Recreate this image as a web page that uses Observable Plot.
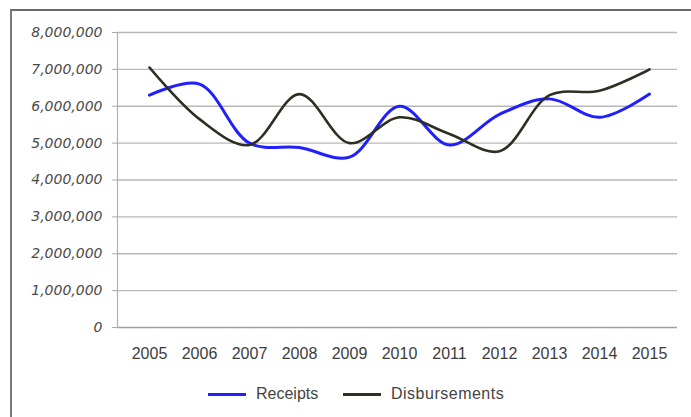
<!DOCTYPE html>
<html>
<head>
<meta charset="utf-8">
<script src="https://cdn.jsdelivr.net/npm/d3@7"></script>
<script src="https://cdn.jsdelivr.net/npm/@observablehq/plot@0.6"></script>
<style>
  body { margin: 0; background: #fff; }
  #wrap { position: relative; width: 691px; height: 417px; overflow: hidden; background: #fff; }
  #frame { position: absolute; left: 10px; top: 9px; width: 720px; height: 430px;
           border-left: 2px solid #7a7a7a; border-top: 2px solid #6a6a6a; box-sizing: border-box; }
  #chart { position: absolute; left: 0; top: 0; }
  #legend { position: absolute; top: 382px; left: 0; width: 691px; height: 24px;
            font-family: "Liberation Sans", sans-serif; font-size: 16px; color: #444; }
  .item { position: absolute; top: 0; display: flex; align-items: center; height: 24px; }
  .swatch { display: inline-block; width: 38px; height: 3px; margin-right: 10px; }
</style>
</head>
<body>
<div id="wrap">
  <div id="frame"></div>
  <div id="chart"></div>
  <div id="legend">
    <div class="item" style="left:208px"><span class="swatch" style="background:#2020ff"></span><span>Receipts</span></div>
    <div class="item" style="left:343px"><span class="swatch" style="background:#2b3020"></span><span style="letter-spacing:0.5px">Disbursements</span></div>
  </div>
</div>
<script>
const years = ["2005","2006","2007","2008","2009","2010","2011","2012","2013","2014","2015"];
const receipts = [6300000, 6600000, 5000000, 4880000, 4620000, 6000000, 4950000, 5780000, 6200000, 5700000, 6330000];
const disbursements = [7050000, 5650000, 4950000, 6330000, 5000000, 5700000, 5250000, 4780000, 6300000, 6420000, 7000000];
const yTicks = [0, 1000000, 2000000, 3000000, 4000000, 5000000, 6000000, 7000000, 8000000];
const seriesNames = ["Receipts", "Disbursements"];
const seriesColors = ["#2020ff", "#2b3020"];

const rows = [];
years.forEach((y, i) => {
  rows.push({year: y, value: receipts[i], series: seriesNames[0]});
  rows.push({year: y, value: disbursements[i], series: seriesNames[1]});
});

const H = 370;
const chart = Plot.plot({
  width: 691,
  height: H,
  marginLeft: 117,
  marginRight: 10,
  marginTop: 32,
  marginBottom: H - 327,
  style: {background: "transparent", overflow: "visible"},
  x: {type: "point", domain: years, padding: 0.56, label: null},
  y: {domain: [0, 8000000], label: null},
  color: {domain: seriesNames, range: seriesColors},
  marks: [
    Plot.ruleY(yTicks.slice(1), {y: d => d, stroke: "#b8b8b8", strokeWidth: 1.3, insetRight: 4}),
    Plot.ruleY([0], {stroke: "#a0a0a0", strokeWidth: 1.3, insetRight: 4}),
    Plot.frame({anchor: "left", stroke: "#b0b0b0", strokeWidth: 1.2}),
    Plot.axisY({ticks: yTicks, tickSize: 5, tickPadding: 10, stroke: "#aaa",
      tickFormat: d => d3.format(",")(d),
      fontSize: 14, fontFamily: "DejaVu Sans", fontStyle: "italic", fill: "#4a4a4a",
      style: {letterSpacing: "1.1px"}}),
    Plot.axisX({tickSize: 0, tickPadding: 20, fontSize: 16, fontFamily: "Liberation Sans", fill: "#3c3c3c",
      style: {letterSpacing: "0.4px"}}),
    Plot.line(rows, {x: "year", y: "value", z: "series", stroke: "series",
      strokeWidth: d => d.series === "Receipts" ? 3 : 2.6, curve: "catmull-rom"})
  ]
});
document.getElementById("chart").appendChild(chart);
</script>
</body>
</html>
